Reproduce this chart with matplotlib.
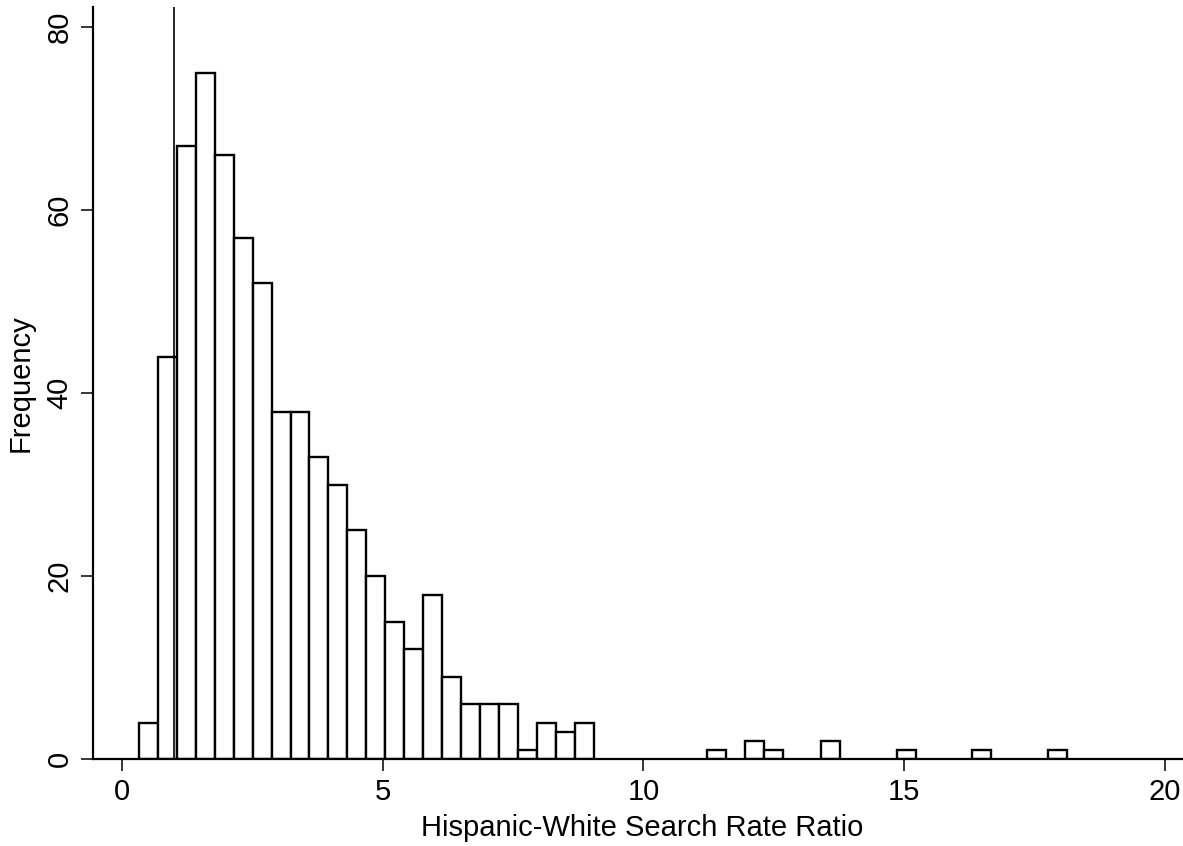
import numpy as np
import matplotlib
matplotlib.use('Agg')
from matplotlib import pyplot as plt

# histogram of the Hispanic-White search rate ratio (49 equal bins)
bin_start = 0.32
bin_width = 0.3635
counts = [4, 44, 67, 75, 66, 57, 52, 38, 38, 33, 30, 25, 20, 15, 12, 18,
          9, 6, 6, 6, 1, 4, 3, 4,
          0, 0, 0, 0, 0, 0,
          1, 0, 2, 1, 0, 0, 2, 0, 0, 0, 1, 0, 0, 0, 1, 0, 0, 0, 1]
ref_line = 1.0
xticks = [0, 5, 10, 15, 20]
yticks = [0, 20, 40, 60, 80]

plt.rcParams['font.family'] = ['Liberation Sans', 'DejaVu Sans']

fig = plt.figure(figsize=(11.83, 8.46), dpi=100)
ax = fig.add_axes([0.0782, 0.1025, 0.93, 0.8892])

left = bin_start + bin_width*np.arange(len(counts))
counts = np.array(counts)
keep = counts > 0
ax.bar(left[keep], counts[keep], width=bin_width, align='edge',
       color='white', edgecolor='black', linewidth=1.7, zorder=2)
ax.axvline(ref_line, color='black', linewidth=1.2, zorder=3)

ax.set_xlim(-0.572, 20.54)
ax.set_ylim(0, 82.2)
ax.set_xticks(xticks)
ax.set_yticks(yticks)
ax.tick_params(axis='both', direction='out', length=8.5, width=1.1,
               labelsize=21, pad=5)
for lab in ax.get_yticklabels():
    lab.set_rotation(90)
    lab.set_va('center')

for s in ['top', 'right']:
    ax.spines[s].set_visible(False)
for s in ['left', 'bottom']:
    ax.spines[s].set_linewidth(1.6)

ax.set_xlabel('Hispanic-White Search Rate Ratio', fontsize=21, labelpad=6)
ax.set_ylabel('Frequency', fontsize=21, labelpad=8)

fig.savefig('out.png', dpi=100)
